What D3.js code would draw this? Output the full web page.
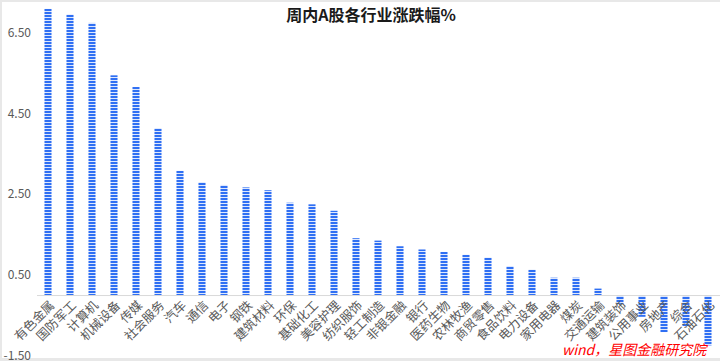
<!DOCTYPE html>
<html><head><meta charset="utf-8">
<script src="https://cdn.jsdelivr.net/npm/d3@7"></script>
<style>html,body{margin:0;padding:0;background:#fff;}svg{display:block;}</style>
</head><body>
<svg id="c" width="720" height="361"></svg>
<script>
const categories = ["有色金属","国防军工","计算机","机械设备","传媒","社会服务","汽车","通信","电子","钢铁","建筑材料","环保","基础化工","美容护理","纺织服饰","轻工制造","非银金融","银行","医药生物","农林牧渔","商贸零售","食品饮料","电力设备","家用电器","煤炭","交通运输","建筑装饰","公用事业","房地产","综合","石油石化"];
const values = [7.10,6.96,6.75,5.45,5.16,4.14,3.08,2.80,2.73,2.67,2.60,2.29,2.25,2.09,1.41,1.35,1.21,1.13,1.07,1.00,0.93,0.72,0.63,0.43,0.43,0.16,-0.22,-0.54,-0.92,-0.77,-1.25];
const yTicks = [-1.5,0.5,2.5,4.5,6.5];
const title = "周内A股各行业涨跌幅%";
const source = "wind，星图金融研究院";

const svg = d3.select("#c");
const W = 720, H = 361;
svg.append("rect").attr("width",W).attr("height",H).attr("fill","#e8e8e8");
svg.append("rect").attr("x",2).attr("y",2).attr("width",W-2).attr("height",356).attr("fill","#fff");

const defs = svg.append("defs");
const pat = defs.append("pattern").attr("id","stripe").attr("patternUnits","userSpaceOnUse")
  .attr("width",10).attr("height",3);
pat.append("rect").attr("width",10).attr("height",3).attr("fill","#dfe8fd");
pat.append("rect").attr("width",10).attr("height",2).attr("fill","#2f6ff3");

const x = d3.scaleBand().domain(categories).range([37,719]).paddingInner(0.68).paddingOuter(0.34);
const y = d3.scaleLinear().domain([-1.5,6.5]).range([355.5,33]);

// y tick labels
const fontCJK = "'Noto Sans CJK SC','Noto Sans',sans-serif";
svg.append("g").selectAll("text").data(yTicks).join("text")
  .attr("x",31).attr("y",d=>y(d)).attr("dy","0.35em")
  .attr("text-anchor","end").attr("font-family",fontCJK).attr("font-size",12)
  .attr("fill","#595959").text(d=>d.toFixed(2));

// bars
svg.append("g").selectAll("rect").data(values).join("rect")
  .attr("x",(d,i)=>x(categories[i]))
  .attr("width",x.bandwidth())
  .attr("y",d=>y(Math.max(0,d)))
  .attr("height",d=>Math.abs(y(d)-y(0)))
  .attr("fill","url(#stripe)");

// zero axis line
svg.append("line").attr("x1",37).attr("x2",720).attr("y1",y(0)+0.5).attr("y2",y(0)+0.5)
  .attr("stroke","#d9d9d9").attr("stroke-width",1);

// category labels
svg.append("g").selectAll("text").data(categories).join("text")
  .attr("transform",d=>`translate(${x(d)+x.bandwidth()/2+4},${y(0)+8}) rotate(-45)`)
  .attr("text-anchor","end").attr("dy","0.35em")
  .attr("font-family",fontCJK).attr("font-size",12.5).attr("fill","#595959")
  .text(d=>d);

// title
svg.append("text").attr("x",371).attr("y",21).attr("text-anchor","middle")
  .attr("font-family",fontCJK).attr("font-size",16).attr("font-weight","bold")
  .attr("fill","#1a1a1a").text(title);

// source
svg.append("text").attr("x",562).attr("y",355)
  .attr("font-family",fontCJK).attr("font-size",14).attr("font-style","italic")
  .attr("fill","#ff0000").text(source);
</script>
</body></html>
